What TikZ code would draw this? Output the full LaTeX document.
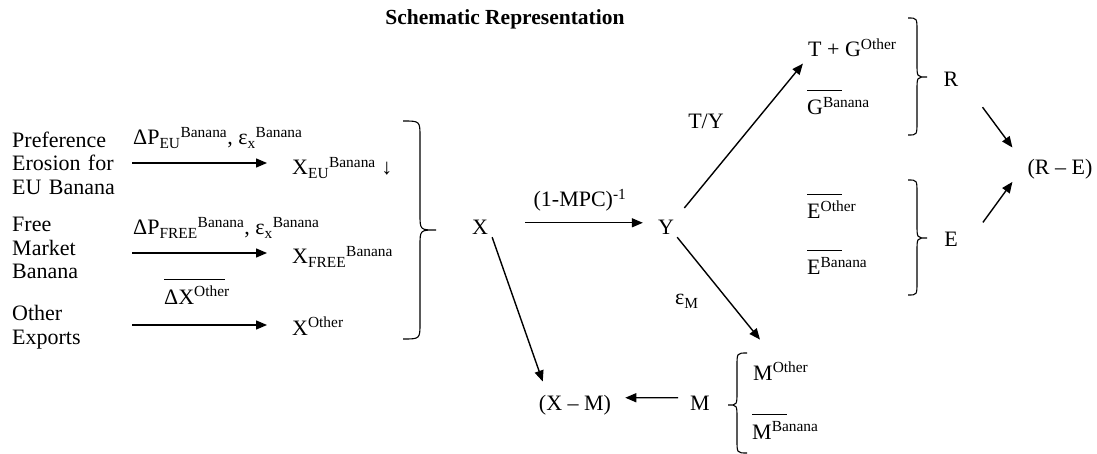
\documentclass[tikz,border=0pt]{standalone}
\usepackage{fontspec}
\setmainfont{Liberation Serif}
\usetikzlibrary{arrows.meta}

% overlined letter with superscript
\newcommand\ovl[3][35pt]{\rlap{\rule[24.5pt]{#1}{0.8pt}}#2\textsuperscript{#3}}
% curly brace: x-end, x-arm, x-tip, y-top, y-tip, y-bottom, curl
\newcommand\curly[7]{%
  \draw[brc] (#1,#4) .. controls (#2,#4) .. (#2,#4+#7) -- (#2,#5-#7)
    .. controls (#2,#5) .. (#3,#5) .. controls (#2,#5) .. (#2,#5+#7)
    -- (#2,#6-#7) .. controls (#2,#6) .. (#1,#6);}

\begin{document}
\begin{tikzpicture}[x=1pt, y=-1pt,
  txt/.style={inner sep=0pt, font=\fontsize{22}{23.5}\selectfont},
  lft/.style={txt, anchor=west, text width=104pt, align=left},
  arr/.style={-{Triangle[length=11pt, width=9pt]}, line width=1.4pt},
  brc/.style={line width=1.1pt}
]
  \useasboundingbox (0,0) rectangle (1097,454);

  \node[txt, font=\fontsize{21.5}{23.5}\selectfont\bfseries, anchor=base] (title) at (505,25) {Schematic Representation};

  % export shocks
  \node[lft] (pref) at (12,163) {Preference\\Erosion for\\EU Banana};
  \node[lft] (free) at (12,248) {Free\\Market\\Banana};
  \node[lft] (other) at (12,327) {Other\\Exports};

  \node[txt, anchor=base west] (dpeu) at (133,145) {ΔP\textsubscript{EU}\textsuperscript{Banana}, ε\textsubscript{x}\textsuperscript{Banana}};
  \node[txt, anchor=base west] (dpfree) at (133,235) {ΔP\textsubscript{FREE}\textsuperscript{Banana}, ε\textsubscript{x}\textsuperscript{Banana}};
  \node[txt, anchor=base] (dxo) at (197,304) {\ovl[61pt]{ΔX}{Other}};

  \node[txt, anchor=base west] (xeu) at (292,175) {X\textsubscript{EU}\textsuperscript{Banana} ↓};
  \node[txt, anchor=base west] (xfree) at (292,264) {X\textsubscript{FREE}\textsuperscript{Banana}};
  \node[txt, anchor=base west] (xoth) at (292,335) {X\textsuperscript{Other}};

  \draw[arr, shorten <=16pt, shorten >=25pt] (pref.east) -- (pref.east -| xeu.west);
  \draw[arr, shorten <=16pt, shorten >=25pt] ([shift={(0,5)}]free.east) -- ([shift={(0,5)}]free.east -| xfree.west);
  \draw[arr, shorten <=16pt, shorten >=25pt] ([shift={(0,-2)}]other.east) -- ([shift={(0,-2)}]other.east -| xoth.west);

  \curly{403}{420}{436}{121}{230}{339}{16}

  % income
  \node[txt, anchor=base] (nx) at (480,235) {X};
  \node[txt, anchor=base] (ny) at (666,235) {Y};
  \node[txt, anchor=base] (mpc) at (580,207) {(1-MPC)\textsuperscript{-1}};
  \draw[arr, shorten <=37pt, shorten >=15pt] ([shift={(0,-5)}]nx.east) -- ([shift={(0,-5)}]ny.west);

  % government
  \node[txt, anchor=base west] (tg) at (808,57) {T + G\textsuperscript{Other}};
  \node[txt, anchor=base west] (gb) at (807,115) {\ovl{G}{Banana}};
  \node[txt, anchor=base west] (eo) at (807,219) {\ovl{E}{Other}};
  \node[txt, anchor=base west] (eb) at (807,275) {\ovl{E}{Banana}};
  \node[txt, anchor=base] (ty) at (706,129) {T/Y};
  \draw[arr, shorten <=16pt, shorten >=8pt] (ny.north east) -- (tg.south west);

  \curly{908}{917}{927}{18}{77}{135}{13}
  \curly{908}{917}{927}{180}{238}{295}{13}
  \node[txt, anchor=base] (nr) at (951,87) {R};
  \node[txt, anchor=base] (ne) at (951,247) {E};
  \node[txt, anchor=base] (re) at (1060,175) {(R – E)};
  \draw[arr] ([shift={(24,20)}]nr.south east) -- ([shift={(-15,-12)}]re.north west);
  \draw[arr] ([shift={(25,-10)}]ne.north east) -- ([shift={(-15,2)}]re.south west);

  % imports
  \node[txt, anchor=base west] (mo) at (753,380) {M\textsuperscript{Other}};
  \node[txt, anchor=base west] (mb) at (752,439) {\ovl{M}{Banana}};
  \curly{747}{737}{728}{353}{405}{453}{13}
  \node[txt, anchor=base] (nm) at (700,410) {M};
  \node[txt, anchor=base] (xm) at (575,410) {(X – M)};
  \node[txt, anchor=base west] (em) at (675,305) {ε\textsubscript{M}};
  \draw[arr] ([shift={(3,2)}]ny.south east) -- ([shift={(7,-22)}]mo.north west);
  \draw[arr] ([shift={(4,2)}]nx.south east) -- ([shift={(4,-13)}]xm.north west);
  \draw[arr, shorten <=12pt, shorten >=14pt] ([shift={(0,-5)}]nm.west) -- ([shift={(0,-7)}]xm.east);
\end{tikzpicture}
\end{document}
